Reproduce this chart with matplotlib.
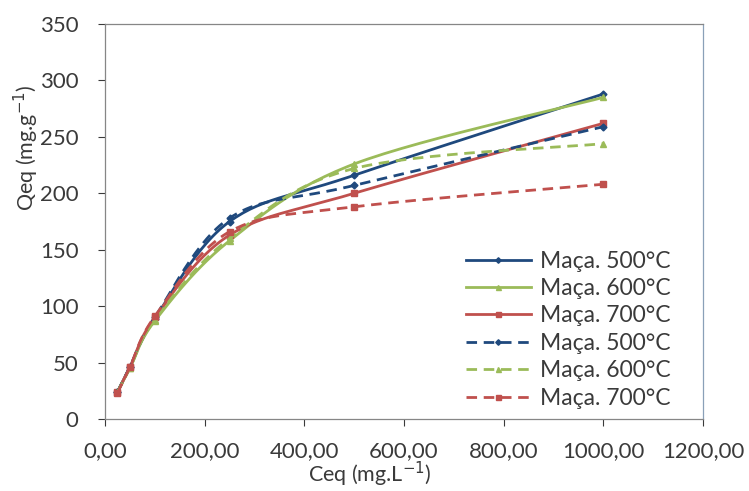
import numpy as np
import matplotlib.pyplot as plt
from matplotlib.ticker import FuncFormatter

plt.rcParams['font.family'] = ['Lato', 'DejaVu Sans']

# Data
ceq = [25, 50, 100, 250, 500, 1000]
solid_500 = [24, 46, 89, 175, 216, 288]
solid_600 = [24, 45, 87, 158, 226, 285]
solid_700 = [24, 46, 90, 163, 200, 262]
dash_500 = [24, 46, 90, 178, 207, 259]
dash_600 = [24, 45, 88, 160, 222, 244]
dash_700 = [23, 46, 91, 166, 188, 208]
labels = ['Maça. 500°C', 'Maça. 600°C', 'Maça. 700°C',
          'Maça. 500°C', 'Maça. 600°C', 'Maça. 700°C']

BLUE = '#1F497D'
GREEN = '#9BBB59'
RED = '#C0504D'
TXT = '#3A3A3A'

XMAX, YMAX = 1200, 350
SX, SY = 598 / XMAX, 395 / YMAX  # roughly pixels per data unit


def smooth(xs, ys, n=30):
    """Excel-like smoothed line (Catmull-Rom Bezier in pixel space)"""
    p = np.column_stack([np.array(xs) * SX, np.array(ys) * SY])
    pts = np.vstack([p[0], p, p[-1]])
    out = []
    t = np.linspace(0, 1, n)[:, None]
    for i in range(1, len(pts) - 2):
        p0, p1, p2, p3 = pts[i - 1], pts[i], pts[i + 1], pts[i + 2]
        c1 = p1 + (p2 - p0) / 6
        c2 = p2 - (p3 - p1) / 6
        seg = ((1 - t) ** 3) * p1 + 3 * ((1 - t) ** 2) * t * c1 + 3 * (1 - t) * t ** 2 * c2 + t ** 3 * p2
        out.append(seg)
    out = np.vstack(out)
    return out[:, 0] / SX, out[:, 1] / SY


fig = plt.figure(figsize=(7.49, 4.91), dpi=100)
ax = fig.add_axes([0.1402, 0.1466, 0.7984, 0.8045])

dash = (0, (3.8, 2.4))
series = [
    (solid_500, BLUE, 'D', '-', 3.5),
    (solid_600, GREEN, '^', '-', 4.5),
    (solid_700, RED, 's', '-', 4.5),
    (dash_500, BLUE, 'D', dash, 3.5),
    (dash_600, GREEN, '^', dash, 4.5),
    (dash_700, RED, 's', dash, 4.5),
]

for (vals, color, marker, ls, ms), lab in zip(series, labels):
    sx, sy = smooth(ceq, vals)
    ax.plot(sx, sy, color=color, linestyle=ls, linewidth=2)
    ax.plot(ceq, vals, linestyle='none', marker=marker, color=color, markersize=ms)
    ax.plot([], [], color=color, linestyle=ls, linewidth=2, marker=marker,
            markersize=ms * 0.8, label=lab)

ax.set_xlim(0, XMAX)
ax.set_ylim(0, YMAX)
ax.set_xticks(np.arange(0, 1201, 200))
ax.set_yticks(np.arange(0, 351, 50))
ax.xaxis.set_major_formatter(FuncFormatter(lambda v, p: f'{v:.2f}'.replace('.', ',')))
ax.tick_params(axis='both', labelsize=16, colors=TXT, length=5, width=0.8,
               direction='out')
ax.tick_params(axis='x', pad=11)
ax.tick_params(axis='y', pad=14)
for side in ['left', 'bottom', 'top', 'right']:
    ax.spines[side].set_color('#868686')
    ax.spines[side].set_linewidth(0.9)
ax.spines['right'].set_color('#8AA0B8')

ax.set_xlabel('Ceq (mg.L$^{-1}$)', fontsize=15.5, color=TXT, va='center')
ax.xaxis.set_label_coords((370 - 105) / 598, -(474 - 419) / 395)
ax.set_ylabel('Qeq (mg.g$^{-1}$)', fontsize=15.5, color=TXT, va='center')
ax.yaxis.set_label_coords(-(105 - 26) / 598, (419 - 148) / 395)

handles, labs = ax.get_legend_handles_labels()
leg = ax.legend(handles, labs, loc='lower right', bbox_to_anchor=(1.0, -0.055),
                frameon=False, fontsize=16.5, handlelength=2.85, handletextpad=0.4,
                labelspacing=0.28, borderaxespad=1.0)
for t in leg.get_texts():
    t.set_color(TXT)

fig.savefig('out.png', dpi=100)
